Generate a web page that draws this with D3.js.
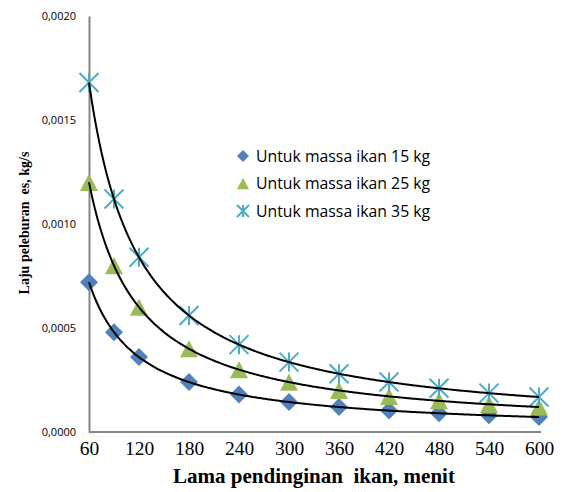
<!DOCTYPE html>
<html><head><meta charset="utf-8">
<script src="https://cdn.jsdelivr.net/npm/d3@7"></script>
<style>body{margin:0;background:#fff}svg{display:block}</style>
</head><body>
<script>
const times = [60, 90, 120, 180, 240, 300, 360, 420, 480, 540, 600];
const mass15 = [0.00072, 0.00048, 0.00036, 0.00024, 0.00018, 0.000144, 0.00012, 0.000103, 0.00009, 0.00008, 0.000072];
const mass25 = [0.0012, 0.0008, 0.0006, 0.0004, 0.0003, 0.00024, 0.0002, 0.000171, 0.00015, 0.000133, 0.00012];
const mass35 = [0.00168, 0.00112, 0.00084, 0.00056, 0.00042, 0.000336, 0.00028, 0.00024, 0.00021, 0.000187, 0.000168];
const seriesNames = ["Untuk massa ikan 15 kg", "Untuk massa ikan 25 kg", "Untuk massa ikan 35 kg"];
const xTicks = [60, 120, 180, 240, 300, 360, 420, 480, 540, 600];
const yTicks = [0, 0.0005, 0.001, 0.0015, 0.002];
const xTitle = "Lama pendinginan  ikan, menit";
const yTitle = "Laju peleburan  es, kg/s";

const W = 565, H = 492;
const svg = d3.select("body").append("svg").attr("width", W).attr("height", H);
const x = d3.scaleLinear().domain([60, 600]).range([89, 539]);
const y = d3.scaleLinear().domain([0, 0.002]).range([432, 16]);

const series = [
  {name: seriesNames[0], vals: mass15, color: "#4F81BD", shape: "diamond"},
  {name: seriesNames[1], vals: mass25, color: "#9BBB59", shape: "triangle"},
  {name: seriesNames[2], vals: mass35, color: "#4BACC6", shape: "star"}
];

// axes
const fmt = v => d3.format(".4f")(v).replace(".", ",");
const yAxis = d3.axisLeft(y).tickValues(yTicks).tickFormat(fmt).tickSize(0).tickPadding(13);
const gy = svg.append("g").attr("transform", "translate(89,0)").call(yAxis);
gy.select(".domain").attr("stroke", "#868686").attr("stroke-width", 2);
gy.selectAll("text").attr("font-family", "'Open Sans', sans-serif").attr("font-size", 11).attr("fill", "#000");

const xAxis = d3.axisBottom(x).tickValues(xTicks).tickSize(0).tickPadding(9);
const gx = svg.append("g").attr("transform", "translate(0,432)").call(xAxis);
gx.select(".domain").attr("stroke", "#868686").attr("stroke-width", 2).attr("d", "M89,0H541");
gx.selectAll("text").attr("font-family", "'Liberation Serif', serif").attr("font-size", 19.5).attr("fill", "#000");

// titles
svg.append("text").attr("x", 314).attr("y", 483).attr("text-anchor", "middle").style("white-space", "pre")
  .attr("font-family", "'Liberation Serif', serif").attr("font-weight", "bold").attr("font-size", 21).text(xTitle);
svg.append("text").attr("transform", "translate(29,223) rotate(-90)").attr("text-anchor", "middle").style("white-space", "pre")
  .attr("font-family", "'Liberation Serif', serif").attr("font-weight", "bold").attr("font-size", 14).text(yTitle);

// markers
function drawMarker(g, shape, color, cx, cy, s) {
  if (shape === "diamond") {
    g.append("path").attr("d", d3.symbol().type(d3.symbolSquare).size(s*s*0.5)())
      .attr("transform", `translate(${cx},${cy}) rotate(45)`).attr("fill", color);
  } else if (shape === "triangle") {
    const h = s * 0.95, w = s;
    g.append("path").attr("d", `M${cx},${cy - h/2}L${cx + w/2},${cy + h/2}L${cx - w/2},${cy + h/2}Z`).attr("fill", color);
  } else {
    const r = s / 2;
    g.append("path").attr("d", `M${cx-r},${cy-r}L${cx+r},${cy+r}M${cx-r},${cy+r}L${cx+r},${cy-r}M${cx},${cy-r}L${cx},${cy+r}`)
      .attr("stroke", color).attr("stroke-width", 2).attr("fill", "none");
  }
}

const mg = svg.append("g");
series.forEach(s => {
  s.vals.forEach((v, i) => drawMarker(mg, s.shape, s.color, x(times[i]), y(v), s.shape === "star" ? 19 : 18));
});

// power trendlines fitted from data
const lg = svg.append("g");
series.forEach(s => {
  const lx = times.map(Math.log), ly = s.vals.map(Math.log);
  const mx = d3.mean(lx), my = d3.mean(ly);
  const b = d3.sum(lx.map((v, i) => (v - mx) * (ly[i] - my))) / d3.sum(lx.map(v => (v - mx) ** 2));
  const a = Math.exp(my - b * mx);
  const pts = d3.range(60, 600.01, 3).map(t => [x(t), y(a * Math.pow(t, b))]);
  lg.append("path").attr("d", d3.line().curve(d3.curveMonotoneX)(pts))
    .attr("fill", "none").attr("stroke", "#000").attr("stroke-width", 2);
});

// legend
const leg = svg.append("g");
series.forEach((s, i) => {
  const ly = 156 + i * 27.5;
  drawMarker(leg, s.shape, s.color, 243, ly, 12);
  leg.append("text").attr("x", 256).attr("y", ly + 5.5)
    .attr("font-family", "'Open Sans', sans-serif").attr("font-size", 15.8).attr("fill", "#000").text(s.name);
});
</script>
</body></html>
